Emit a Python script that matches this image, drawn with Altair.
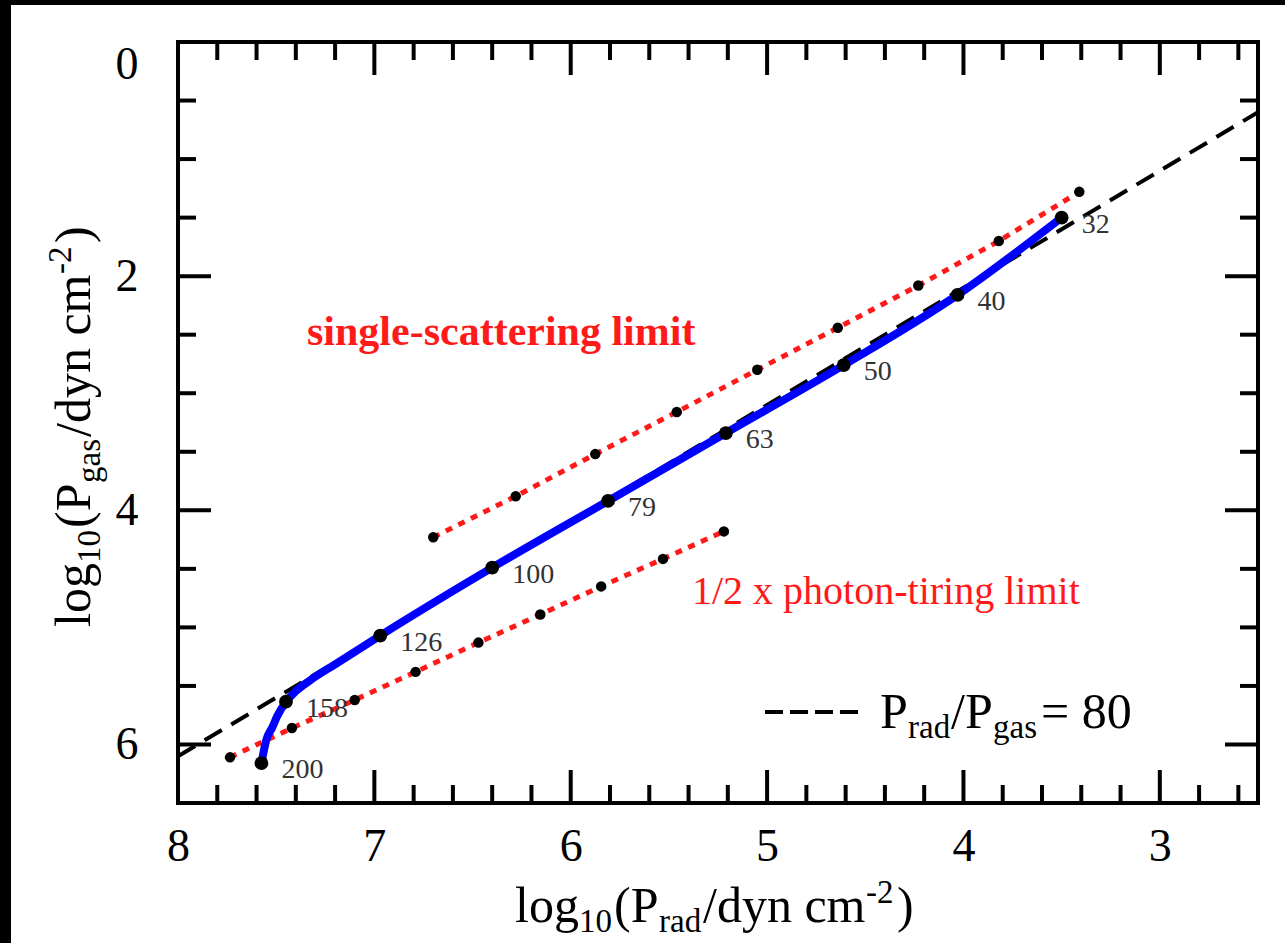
import altair as alt
import pandas as pd

FONT = "Liberation Serif"

# ---------------- data ----------------
# Prad/Pgas = 80 reference line (two end points)
dash_x = [8.0, 2.5]
dash_y = [6.10, 0.60]

# blue model track (log Prad, log Pgas)
blue_x = [7.575, 7.55, 7.52, 7.495, 7.45, 7.40, 7.33, 7.20, 6.97, 6.40, 5.81, 5.21, 4.61, 4.03, 3.50]
blue_y = [6.16, 5.96, 5.855, 5.76, 5.635, 5.545, 5.455, 5.315, 5.07, 4.49, 3.92, 3.34, 2.76, 2.16, 1.50]

# labelled points on the blue track
dot_x = [3.50, 4.03, 4.61, 5.21, 5.81, 6.40, 6.97, 7.45, 7.575]
dot_y = [1.50, 2.16, 2.76, 3.34, 3.92, 4.49, 5.07, 5.635, 6.16]
dot_lab = ["32", "40", "50", "63", "79", "100", "126", "158", "200"]

# single-scattering limit
ss_x = [6.70, 6.28, 5.875, 5.46, 5.05, 4.64, 4.23, 3.82, 3.41]
ss_y = [4.23, 3.88, 3.52, 3.16, 2.80, 2.44, 2.08, 1.70, 1.28]

# 1/2 x photon-tiring limit
pt_x = [7.735, 7.42, 7.10, 6.79, 6.47, 6.155, 5.845, 5.53, 5.22]
pt_y = [6.11, 5.86, 5.62, 5.38, 5.13, 4.89, 4.65, 4.415, 4.18]

# axis ticks
x_major = [3, 4, 5, 6, 7, 8]
x_minor = [2.6, 2.8, 3.2, 3.4, 3.6, 3.8, 4.2, 4.4, 4.6, 4.8, 5.2, 5.4, 5.6, 5.8,
           6.2, 6.4, 6.6, 6.8, 7.2, 7.4, 7.6, 7.8]
y_major = [0, 2, 4, 6]
y_minor = [0.5, 1, 1.5, 2.5, 3, 3.5, 4.5, 5, 5.5]

# ---------------- layout ----------------
W, H = 1080, 761
L, T = 178, 42          # plot origin in the page

xs = alt.Scale(domain=[2.5, 8], reverse=True, nice=False, zero=False)
ys = alt.Scale(domain=[0, 6.5], reverse=True, nice=False, zero=False)

xaxis = alt.Axis(values=x_major, format="d", title=None, ticks=False, domain=False,
                 grid=False, labelFont=FONT, labelFontSize=46, labelColor="black",
                 labelPadding=21, labelFlush=False, zindex=1)
yaxis = alt.Axis(values=y_major, format="d", title=None, ticks=False, domain=False,
                 grid=False, labelFont=FONT, labelFontSize=46, labelColor="black",
                 labelPadding=40, labelFlush=True, zindex=1)


def X(f):
    return alt.X(f, type="quantitative", scale=xs, axis=xaxis)


def Y(f):
    return alt.Y(f, type="quantitative", scale=ys, axis=yaxis)


dash_df = pd.DataFrame({"x": dash_x, "y": dash_y})
blue_df = pd.DataFrame({"x": blue_x, "y": blue_y})
dot_df = pd.DataFrame({"x": dot_x, "y": dot_y, "lab": dot_lab})
ss_df = pd.DataFrame({"x": ss_x, "y": ss_y})
pt_df = pd.DataFrame({"x": pt_x, "y": pt_y})

layers = []

# black strips at the left and top edge of the page
one = alt.Data(values=[{}])
layers.append(alt.Chart(one).mark_rect(color="black").encode(
    x=alt.value(-L), x2=alt.value(11 - L), y=alt.value(-T), y2=alt.value(943 - T)))
layers.append(alt.Chart(one).mark_rect(color="black").encode(
    x=alt.value(-L), x2=alt.value(1285 - L), y=alt.value(-T), y2=alt.value(5 - T)))

# reference dashed line
layers.append(alt.Chart(dash_df).mark_line(color="black", strokeWidth=4, strokeDash=[20, 11])
              .encode(x=X("x"), y=Y("y")))

# red dotted limits
for df in (ss_df, pt_df):
    layers.append(alt.Chart(df).mark_line(color="#ff1a1a", strokeWidth=5, strokeDash=[7, 7])
                  .encode(x=X("x"), y=Y("y")))
    layers.append(alt.Chart(df).mark_circle(color="black", size=110, opacity=1)
                  .encode(x=X("x"), y=Y("y")))

# blue track
layers.append(alt.Chart(blue_df).mark_line(color="#0000ff", strokeWidth=8, interpolate="monotone")
              .encode(x=X("x"), y=Y("y"), order=alt.Order("x", sort="descending")))
layers.append(alt.Chart(dot_df).mark_circle(color="black", size=190, opacity=1)
              .encode(x=X("x"), y=Y("y")))
layers.append(alt.Chart(dot_df).mark_text(font=FONT, fontSize=28, color="#333333", align="left",
                                          baseline="middle", dx=20, dy=7)
              .encode(x=X("x"), y=Y("y"), text="lab:N"))

# ticks (inward, all four sides)
xmaj = pd.DataFrame({"v": x_major})
xmin = pd.DataFrame({"v": x_minor})
ymaj = pd.DataFrame({"v": y_major})
ymin = pd.DataFrame({"v": y_minor})
for df, ln in ((xmaj, 33), (xmin, 18)):
    layers.append(alt.Chart(df).mark_rule(color="black", strokeWidth=4)
                  .encode(x=X("v"), y=alt.value(H), y2=alt.value(H - ln)))
    layers.append(alt.Chart(df).mark_rule(color="black", strokeWidth=4)
                  .encode(x=X("v"), y=alt.value(0), y2=alt.value(ln)))
for df, ln in ((ymaj, 33), (ymin, 18)):
    layers.append(alt.Chart(df).mark_rule(color="black", strokeWidth=4)
                  .encode(y=Y("v"), x=alt.value(0), x2=alt.value(ln)))
    layers.append(alt.Chart(df).mark_rule(color="black", strokeWidth=4)
                  .encode(y=Y("v"), x=alt.value(W), x2=alt.value(W - ln)))

# frame
layers.append(alt.Chart(one).mark_rect(fill="white", fillOpacity=0, stroke="black", strokeWidth=4)
              .encode(x=alt.value(0), x2=alt.value(W), y=alt.value(0), y2=alt.value(H)))


def piece(s, x, y, size, angle=0, color="black", weight="normal"):
    return alt.Chart(one).mark_text(text=s, font=FONT, fontSize=size, align="left",
                                    baseline="alphabetic", angle=angle, color=color,
                                    fontWeight=weight).encode(
        x=alt.value(x - L), y=alt.value(y - T))


MS, SS = 50, 33
# x-axis title: log10(Prad/dyn cm-2)
layers += [
    piece("log", 515, 922, MS),
    piece("10", 579, 932, SS),
    piece("(P", 614, 922, MS),
    piece("rad", 659, 932, SS),
    piece("/dyn cm", 703, 922, MS),
    piece("-2", 866, 903, SS),
    piece(")", 897, 922, MS),
]
# y-axis title: log10(Pgas/dyn cm-2), reading upward
layers += [
    piece("log", 90, 627, MS, angle=270),
    piece("10", 100, 563, SS, angle=270),
    piece("(P", 90, 528, MS, angle=270),
    piece("gas", 100, 483, SS, angle=270),
    piece("/dyn cm", 90, 437, MS, angle=270),
    piece("-2", 71, 274, SS, angle=270),
    piece(")", 90, 243, MS, angle=270),
]

# annotations
layers.append(piece("single-scattering limit", 307, 345, 42, color="#ff1a1a", weight="bold"))
layers.append(piece("1/2 x photon-tiring limit", 692, 604, 40, color="#ff1a1a"))

# legend
layers.append(alt.Chart(one).mark_rule(color="black", strokeWidth=4, strokeDash=[18, 7]).encode(
    x=alt.value(765 - L), x2=alt.value(858 - L), y=alt.value(712 - T)))
layers += [
    piece("P", 880, 728, MS),
    piece("rad", 908, 738, SS),
    piece("/P", 951, 728, MS),
    piece("gas", 993, 738, SS),
    piece("= 80", 1041, 728, MS),
]

chart = alt.layer(*layers).properties(
    width=W, height=H,
    padding={"left": L, "top": T, "right": 1285 - L - W, "bottom": 943 - T - H},
    autosize=alt.AutoSizeParams(type="none"),
    background="white",
).configure_view(stroke=None)

chart.save("out.html", embed_options={"renderer": "svg", "actions": False})
